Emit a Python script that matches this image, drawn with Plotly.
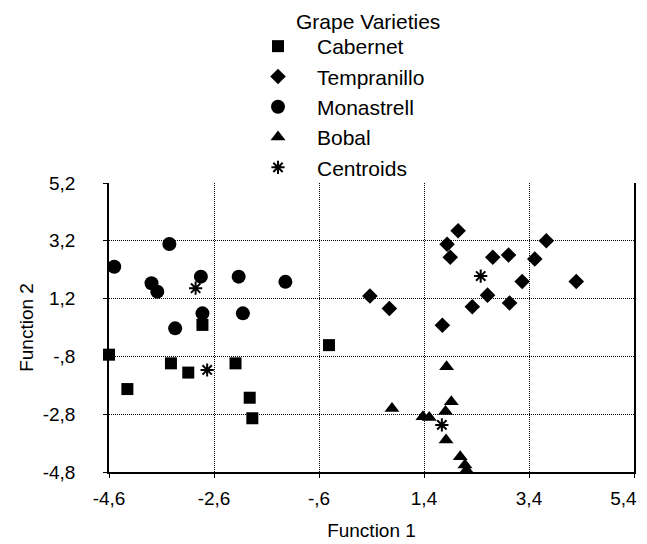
import plotly.graph_objects as go

# ---- data ----
cab_x = [-2.82, -3.42, -3.09, -2.19, -4.25, -1.92, -1.87, -0.41, -4.60]
cab_y = [0.29, -1.04, -1.36, -1.04, -1.93, -2.23, -2.94, -0.41, -0.74]

tem_x = [0.37, 0.74, 2.05, 1.84, 1.90, 2.71, 3.01, 3.73, 3.51, 3.27, 4.30, 2.61, 2.32, 3.03, 1.75]
tem_y = [1.29, 0.86, 3.55, 3.08, 2.63, 2.63, 2.71, 3.20, 2.57, 1.79, 1.79, 1.32, 0.92, 1.05, 0.28]

mon_x = [-4.50, -3.45, -3.79, -3.68, -2.85, -2.13, -1.24, -2.82, -2.05, -3.34]
mon_y = [2.30, 3.09, 1.73, 1.44, 1.96, 1.96, 1.78, 0.69, 0.69, 0.17]

bob_x = [1.83, 0.79, 1.38, 1.50, 1.92, 1.81, 1.82, 2.09, 2.18, 2.21]
bob_y = [-1.16, -2.60, -2.89, -2.91, -2.37, -2.71, -3.69, -4.27, -4.56, -4.73]

cen_x = [-2.95, -2.73, 2.48, 1.74]
cen_y = [1.56, -1.27, 1.98, -3.17]

x_ticks = [-4.6, -2.6, -0.6, 1.4, 3.4, 5.4]
x_tick_text = ["-4,6", "-2,6", "-,6", "1,4", "3,4", "5,4\u00a0\u00a0\u00a0\u00a0"]
y_ticks = [5.2, 3.2, 1.2, -0.8, -2.8, -4.8]
y_tick_text = ["5,2", "3,2", "1,2", "-,8", "-2,8", "-4,8"]

FONT = "Liberation Sans, Arial, sans-serif"
# page body has an 8px margin, so the figure is drawn 8px smaller
W, H = 639, 536
ML, MR, MT, MB = 101, 13, 175, 72
PW, PH = W - ML - MR, H - MT - MB

fig = go.Figure()
fig.add_trace(go.Scatter(x=cab_x, y=cab_y, mode="markers", name="Cabernet",
                         marker=dict(symbol="square", size=12, color="black"),
                         cliponaxis=False))
fig.add_trace(go.Scatter(x=tem_x, y=tem_y, mode="markers", name="Tempranillo",
                         marker=dict(symbol="diamond", size=12, color="black"),
                         cliponaxis=False))
fig.add_trace(go.Scatter(x=mon_x, y=mon_y, mode="markers", name="Monastrell",
                         marker=dict(symbol="circle", size=14, color="black"),
                         cliponaxis=False))
fig.add_trace(go.Scatter(x=bob_x, y=bob_y, mode="markers", name="Bobal",
                         marker=dict(symbol="triangle-up", size=13, color="black"),
                         cliponaxis=False))
fig.add_trace(go.Scatter(x=cen_x, y=cen_y, mode="markers", name="Centroids",
                         marker=dict(symbol="asterisk-open", size=11, color="black",
                                     line=dict(width=2, color="black")),
                         cliponaxis=False))

fig.update_layout(
    width=W, height=H,
    margin=dict(l=ML, r=MR, t=MT, b=MB, autoexpand=False),
    paper_bgcolor="white", plot_bgcolor="white",
    font=dict(family=FONT, size=19, color="black"),
    showlegend=True,
    legend=dict(x=(231 - ML) / PW, y=1 + (MT - 18) / PH, xanchor="left", yanchor="top",
                xref="paper", yref="paper",
                bgcolor="rgba(0,0,0,0)", font=dict(size=21),
                itemsizing="trace", tracegroupgap=0, itemwidth=68),
    annotations=[dict(text="Grape Varieties",
                      x=(360 - ML) / PW, y=1 + MT / PH,
                      xref="paper", yref="paper", xanchor="center", yanchor="top",
                      showarrow=False, font=dict(size=21))],
)

fig.update_xaxes(range=[-4.6, 5.4], tickvals=x_ticks, ticktext=x_tick_text,
                 showgrid=True, gridcolor="black", griddash="1px,1px", gridwidth=1,
                 showline=True, linecolor="black", linewidth=1.5, mirror=False,
                 ticks="outside", ticklen=4, tickcolor="black",
                 zeroline=False, tickfont=dict(size=19), ticklabelstandoff=4,
                 ticklabeloverflow="allow",
                 title=dict(text="Function 1", font=dict(size=19), standoff=16))
fig.update_yaxes(range=[-4.8, 5.2], tickvals=y_ticks, ticktext=y_tick_text,
                 showgrid=True, gridcolor="black", griddash="1px,1px", gridwidth=1,
                 showline=True, linecolor="black", linewidth=1.5, mirror=True,
                 ticks="outside", ticklen=4, tickcolor="black",
                 zeroline=False, tickfont=dict(size=19), ticklabelstandoff=24,
                 title=dict(text="Function 2", font=dict(size=19), standoff=4))

fig.write_html("out.html")
